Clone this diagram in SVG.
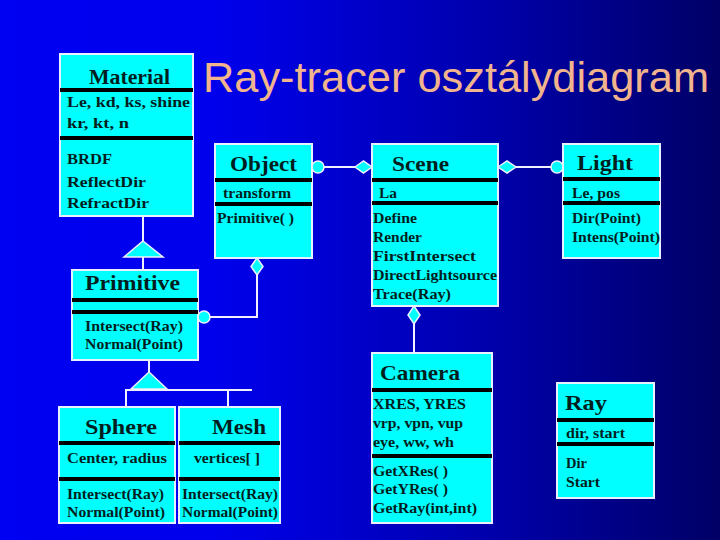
<svg xmlns="http://www.w3.org/2000/svg" width="720" height="540" viewBox="0 0 720 540">
<defs>
<linearGradient id="bg" x1="0" y1="0" x2="1" y2="0">
<stop offset="0" stop-color="#0000f2"/>
<stop offset="0.3" stop-color="#0000ec"/>
<stop offset="0.7" stop-color="#0000a8"/>
<stop offset="1" stop-color="#000066"/>
</linearGradient>
<style>
.box{fill:#00ffff;stroke:#e8f0ff;stroke-width:2}
.sep{stroke:#000;stroke-width:4}
.cn{font-family:"Liberation Serif","Times New Roman",serif;font-weight:bold;font-size:22px;fill:#001e1e}
.tx{font-family:"Liberation Serif","Times New Roman",serif;font-weight:bold;font-size:15px;fill:#001e1e}
.ln{fill:none;stroke:#f0f0ff;stroke-width:2}
.sym{fill:#00ffff;stroke:#f0f0ff;stroke-width:1.5}
.title{font-family:"Liberation Sans",Arial,sans-serif;font-size:43px;fill:#f2b48c}
</style>
</defs>
<rect width="720" height="540" fill="url(#bg)"/>
<text class="title" x="203" y="92" textLength="506" lengthAdjust="spacingAndGlyphs">Ray-tracer osztálydiagram</text>

<g id="connectors">
<line class="ln" x1="143" y1="216" x2="143" y2="241"/>
<line class="ln" x1="143" y1="257" x2="143" y2="270"/>
<polygon class="sym" points="143,241 163,257 124,257"/>
<line class="ln" x1="149" y1="360" x2="149" y2="372"/>
<polyline class="ln" points="126,407 126,390 252,390"/>
<line class="ln" x1="228" y1="390" x2="228" y2="407"/>
<polygon class="sym" points="149,372 167,389 131,389"/>
<polyline class="ln" points="257,275 257,317 210,317"/>
<polygon class="sym" points="257,258 263,266.5 257,275 251,266.5"/>
<circle class="sym" cx="204" cy="317" r="6"/>
<line class="ln" x1="324" y1="167" x2="355" y2="167"/>
<circle class="sym" cx="318" cy="167" r="6"/>
<polygon class="sym" points="355,167 363.5,161 372,167 363.5,173"/>
<line class="ln" x1="516" y1="167" x2="551" y2="167"/>
<polygon class="sym" points="498,167 507,161 516,167 507,173"/>
<circle class="sym" cx="557" cy="167" r="6"/>
<line class="ln" x1="414" y1="324" x2="414" y2="353"/>
<polygon class="sym" points="414,306 420,315 414,324 408,315"/>
</g>

<g id="material">
<rect class="box" x="60" y="54" width="133" height="162"/>
<line class="sep" x1="60" y1="90" x2="193" y2="90"/>
<line class="sep" x1="60" y1="138" x2="193" y2="138"/>
<text class="cn" x="89" y="84" textLength="81" lengthAdjust="spacingAndGlyphs" style="font-size:21px">Material</text>
<text class="tx" x="67" y="107" textLength="123" lengthAdjust="spacingAndGlyphs">Le, kd, ks, shine</text>
<text class="tx" x="67" y="128" textLength="62" lengthAdjust="spacingAndGlyphs">kr, kt, n</text>
<text class="tx" x="67" y="164" textLength="45" lengthAdjust="spacingAndGlyphs">BRDF</text>
<text class="tx" x="67" y="187" textLength="79" lengthAdjust="spacingAndGlyphs">ReflectDir</text>
<text class="tx" x="67" y="208" textLength="82" lengthAdjust="spacingAndGlyphs">RefractDir</text>
</g>

<g id="object">
<rect class="box" x="215" y="144" width="97" height="114"/>
<line class="sep" x1="215" y1="180" x2="312" y2="180"/>
<line class="sep" x1="215" y1="204" x2="312" y2="204"/>
<text class="cn" x="230" y="171" textLength="67" lengthAdjust="spacingAndGlyphs">Object</text>
<text class="tx" x="223" y="198" textLength="68" lengthAdjust="spacingAndGlyphs">transform</text>
<text class="tx" x="217" y="223" textLength="77" lengthAdjust="spacingAndGlyphs">Primitive( )</text>
</g>

<g id="scene">
<rect class="box" x="372" y="144" width="126" height="162"/>
<line class="sep" x1="372" y1="180" x2="498" y2="180"/>
<line class="sep" x1="372" y1="203" x2="498" y2="203"/>
<text class="cn" x="392" y="171" textLength="57" lengthAdjust="spacingAndGlyphs">Scene</text>
<text class="tx" x="379" y="198" textLength="18" lengthAdjust="spacingAndGlyphs">La</text>
<text class="tx" x="373" y="223" textLength="44" lengthAdjust="spacingAndGlyphs">Define</text>
<text class="tx" x="373" y="242" textLength="49" lengthAdjust="spacingAndGlyphs">Render</text>
<text class="tx" x="373" y="261" textLength="103" lengthAdjust="spacingAndGlyphs">FirstIntersect</text>
<text class="tx" x="373" y="280" textLength="124" lengthAdjust="spacingAndGlyphs">DirectLightsource</text>
<text class="tx" x="373" y="299" textLength="78" lengthAdjust="spacingAndGlyphs">Trace(Ray)</text>
</g>

<g id="light">
<rect class="box" x="563" y="144" width="97" height="114"/>
<line class="sep" x1="563" y1="179" x2="660" y2="179"/>
<line class="sep" x1="563" y1="203" x2="660" y2="203"/>
<text class="cn" x="577" y="170" textLength="56" lengthAdjust="spacingAndGlyphs">Light</text>
<text class="tx" x="572" y="198" textLength="48" lengthAdjust="spacingAndGlyphs">Le, pos</text>
<text class="tx" x="572" y="223" textLength="69" lengthAdjust="spacingAndGlyphs">Dir(Point)</text>
<text class="tx" x="572" y="242" textLength="88" lengthAdjust="spacingAndGlyphs">Intens(Point)</text>
</g>

<g id="primitive">
<rect class="box" x="72" y="270" width="126" height="90"/>
<line class="sep" x1="72" y1="300" x2="198" y2="300"/>
<line class="sep" x1="72" y1="312" x2="198" y2="312"/>
<text class="cn" x="85" y="290" textLength="95" lengthAdjust="spacingAndGlyphs">Primitive</text>
<text class="tx" x="85" y="331" textLength="98" lengthAdjust="spacingAndGlyphs">Intersect(Ray)</text>
<text class="tx" x="85" y="349" textLength="98" lengthAdjust="spacingAndGlyphs">Normal(Point)</text>
</g>

<g id="sphere">
<rect class="box" x="59" y="407" width="116" height="116"/>
<line class="sep" x1="59" y1="443" x2="175" y2="443"/>
<line class="sep" x1="59" y1="479" x2="175" y2="479"/>
<text class="cn" x="85" y="434" textLength="72" lengthAdjust="spacingAndGlyphs">Sphere</text>
<text class="tx" x="67" y="463" textLength="100" lengthAdjust="spacingAndGlyphs">Center, radius</text>
<text class="tx" x="67" y="499" textLength="97" lengthAdjust="spacingAndGlyphs">Intersect(Ray)</text>
<text class="tx" x="67" y="517" textLength="98" lengthAdjust="spacingAndGlyphs">Normal(Point)</text>
</g>

<g id="mesh">
<rect class="box" x="179" y="407" width="101" height="116"/>
<line class="sep" x1="179" y1="443" x2="280" y2="443"/>
<line class="sep" x1="179" y1="479" x2="280" y2="479"/>
<text class="cn" x="212" y="434" textLength="54" lengthAdjust="spacingAndGlyphs">Mesh</text>
<text class="tx" x="194" y="463" textLength="66" lengthAdjust="spacingAndGlyphs">vertices[ ]</text>
<text class="tx" x="182" y="499" textLength="96" lengthAdjust="spacingAndGlyphs">Intersect(Ray)</text>
<text class="tx" x="182" y="517" textLength="96" lengthAdjust="spacingAndGlyphs">Normal(Point)</text>
</g>

<g id="camera">
<rect class="box" x="372" y="353" width="120" height="170"/>
<line class="sep" x1="372" y1="390" x2="492" y2="390"/>
<line class="sep" x1="372" y1="456" x2="492" y2="456"/>
<text class="cn" x="380" y="380" textLength="80" lengthAdjust="spacingAndGlyphs">Camera</text>
<text class="tx" x="373" y="409" textLength="93" lengthAdjust="spacingAndGlyphs">XRES, YRES</text>
<text class="tx" x="373" y="428" textLength="90" lengthAdjust="spacingAndGlyphs">vrp, vpn, vup</text>
<text class="tx" x="373" y="447" textLength="81" lengthAdjust="spacingAndGlyphs">eye, ww, wh</text>
<text class="tx" x="373" y="476" textLength="75" lengthAdjust="spacingAndGlyphs">GetXRes( )</text>
<text class="tx" x="373" y="494" textLength="75" lengthAdjust="spacingAndGlyphs">GetYRes( )</text>
<text class="tx" x="373" y="513" textLength="104" lengthAdjust="spacingAndGlyphs">GetRay(int,int)</text>
</g>

<g id="ray">
<rect class="box" x="557" y="383" width="97" height="115"/>
<line class="sep" x1="557" y1="420" x2="654" y2="420"/>
<line class="sep" x1="557" y1="444" x2="654" y2="444"/>
<text class="cn" x="565" y="410" textLength="42" lengthAdjust="spacingAndGlyphs">Ray</text>
<text class="tx" x="566" y="438" textLength="59" lengthAdjust="spacingAndGlyphs">dir, start</text>
<text class="tx" x="566" y="468" textLength="21" lengthAdjust="spacingAndGlyphs">Dir</text>
<text class="tx" x="566" y="487" textLength="34" lengthAdjust="spacingAndGlyphs">Start</text>
</g>
</svg>
